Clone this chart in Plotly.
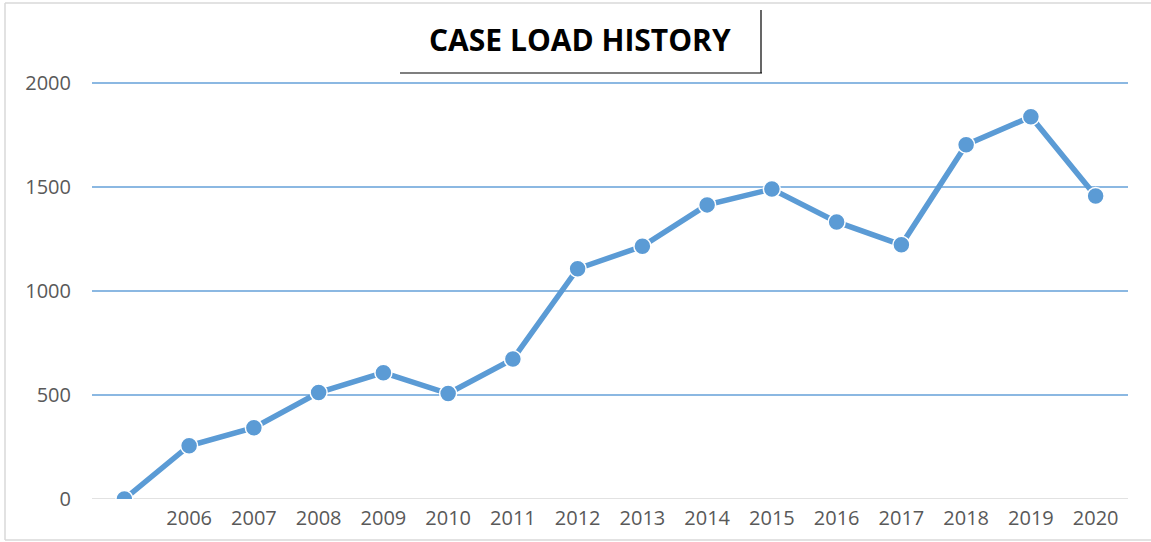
import plotly.graph_objects as go

categories = ["", "2006", "2007", "2008", "2009", "2010", "2011", "2012",
              "2013", "2014", "2015", "2016", "2017", "2018", "2019", "2020"]
case_load = [0, 256, 343, 512, 607, 507, 673, 1107, 1215, 1414, 1490, 1332,
             1222, 1703, 1838, 1457]
y_ticks = [0, 500, 1000, 1500, 2000]

W, H = 1151, 542
L, R, T, B = 92, 23, 81, 43
pw, ph = W - L - R, H - T - B
y_top = 2000 * ph / 416.0  # keep 416 px per 2000 units, 2 px headroom for the top gridline

def px(x):
    return (x - L) / pw

def py(y):
    return (H - B - y) / ph

blue = "#5b9bd5"
grid_blue = "#64a0d8"
fig = go.Figure()
fig.add_trace(go.Scatter(
    x=list(range(len(categories))), y=case_load, mode="lines+markers",
    line=dict(color=blue, width=5.5),
    marker=dict(color=blue, size=17, line=dict(color="white", width=1.5)),
    hoverinfo="x+y", showlegend=False,
))

shapes = [
    # zero baseline
    dict(type="line", xref="paper", yref="y", x0=0, x1=1, y0=0, y1=0,
         line=dict(color="#d9d9d9", width=1.5), layer="below"),
    # outer frame
    dict(type="line", xref="paper", yref="paper", x0=px(5), x1=px(W), y0=py(3), y1=py(3),
         line=dict(color="#d9d9d9", width=1.5)),
    dict(type="line", xref="paper", yref="paper", x0=px(5), x1=px(W), y0=py(540), y1=py(540),
         line=dict(color="#d9d9d9", width=1.5)),
    dict(type="line", xref="paper", yref="paper", x0=px(5), x1=px(5), y0=py(3), y1=py(540),
         line=dict(color="#d9d9d9", width=1.5)),
    # title box
    dict(type="line", xref="paper", yref="paper", x0=px(400), x1=px(762), y0=py(73), y1=py(73),
         line=dict(color="black", width=1.2)),
    dict(type="line", xref="paper", yref="paper", x0=px(761), x1=px(761), y0=py(10), y1=py(73),
         line=dict(color="black", width=1.2)),
]
# blue gridlines
for v in y_ticks[1:]:
    shapes.append(dict(type="line", xref="paper", yref="y", x0=0, x1=1, y0=v, y1=v,
                       line=dict(color=grid_blue, width=1.5), layer="below"))

fig.update_layout(
    width=W, height=H,
    margin=dict(l=L, r=R, t=T, b=B, autoexpand=False),
    paper_bgcolor="white", plot_bgcolor="white",
    font=dict(family="Open Sans", size=20, color="#595959"),
    xaxis=dict(
        range=[-0.5, len(categories) - 0.5],
        tickvals=list(range(len(categories))), ticktext=categories,
        showgrid=False, zeroline=False, showline=False, ticks="",
        ticklabelstandoff=5, automargin=False,
    ),
    yaxis=dict(
        range=[0, y_top], tickvals=y_ticks,
        showgrid=False, zeroline=False, showline=False, ticks="",
        ticklabelstandoff=20, automargin=False,
    ),
    shapes=shapes,
    annotations=[
        dict(text="<b>CASE LOAD HISTORY</b>", xref="paper", yref="paper",
             x=px(580), y=py(39), xanchor="center", yanchor="middle", showarrow=False,
             font=dict(family="Open Sans", size=30, color="black")),
    ],
)

fig.write_html("out.html", config={"displayModeBar": False},
               post_script="document.body.style.margin='0';")
